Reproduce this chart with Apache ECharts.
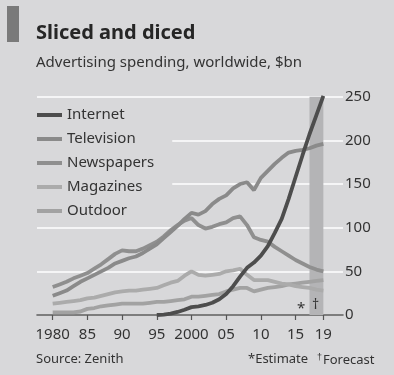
<!DOCTYPE html>
<html><head><meta charset="utf-8">
<script src="https://cdn.jsdelivr.net/npm/echarts@6/dist/echarts.min.js"></script>
<style>html,body{margin:0;padding:0;background:#d8d8da;}#c{width:394px;height:375px;}</style>
</head><body><div id="c"></div>
<script>
const years = [];
for (let y = 1980; y <= 2019; y++) years.push(y);
const internet = [null,null,null,null,null,null,null,null,null,null,null,null,null,null,null,
  0,0.5,1.5,3.5,6,9,10,11.5,14,18,24,33,44,54,60,68,79,94,110,133,158,183,207,229,251];
const television = [22,25,28,33,38,42,46,50,54,59,62,65,67,71,76,81,88,95,102,110,
  117,115,119,127,133,137,145,150,152,143,157,165,173,180,186,188,189,191,194,196];
const newspapers = [32,35,38,42,45,48,53,58,64,70,74,73,73,76,80,84,90,97,103,108,
  111,103,99,101,104,106,111,113,103,89,86,84,78,73,68,63,59,55,52,50];
const magazines = [13,14,15,16,17,19,20,22,24,26,27,28,28,29,30,31,34,37,39,45,
  50,46,45,46,47,50,51,53,46,40,40,40,38,36,35,33,32,31,29,28];
const outdoor = [3,3,3,3,4,7,8,10,11,12,13,13,13,13,14,15,15,16,17,18,
  21,21,22,23,24,27,29,31,31,27,29,31,32,33,35,36,37,38,39,40];
const tickYears = [1980,1985,1990,1995,2000,2005,2010,2015,2019];
const tickLabels = ['1980','85','90','95','2000','05','10','15','19'];
const forecastStart = 2017, forecastEnd = 2019;

const FONT = 'Noto Sans';
const pairs = arr => years.map((y,i) => [y, arr[i]]);
function line(name, data, color, z) {
  return { name, type:'line', data: pairs(data), showSymbol:false, symbol:'none',
    lineStyle:{color, width:3.8}, itemStyle:{color}, z, connectNulls:false, silent:true };
}
const series = [
  line('Outdoor', outdoor, '#a2a2a2', 2),
  line('Magazines', magazines, '#ababab', 3),
  line('Newspapers', newspapers, '#8f8f8f', 4),
  line('Television', television, '#8a8a8a', 5),
  line('Internet', internet, '#4d4d4d', 6)
];
series[0].markArea = { silent:true, itemStyle:{color:'#b4b4b6'}, data:[[{xAxis:forecastStart, yAxis:0},{xAxis:forecastEnd, yAxis:250}]] };

const chart = echarts.init(document.getElementById('c'), null, {renderer:'canvas'});
chart.setOption({
  backgroundColor:'#d8d8da',
  animation:false,
  textStyle:{fontFamily:FONT},
  grid:{left:37, right:51, top:96.7, bottom:60},
  xAxis:{type:'value', min:1977.74, max:2021.83,
    axisLine:{show:true, lineStyle:{color:'#555', width:1.5}},
    axisTick:{show:true, length:5, lineStyle:{color:'#555', width:1.2}, customValues:tickYears},
    axisLabel:{customValues:tickYears, formatter:v => tickLabels[tickYears.indexOf(v)], color:'#333', fontSize:15, margin:12, fontFamily:FONT},
    splitLine:{show:false}},
  yAxis:{type:'value', position:'right', min:0, max:250, interval:50,
    axisLine:{show:false}, axisTick:{show:false},
    axisLabel:{color:'#333', fontSize:15, margin:2, fontFamily:FONT},
    splitLine:{show:true, lineStyle:{color:'#ffffff', width:1.5}}},
  legend:{orient:'vertical', left:37, top:101, backgroundColor:'#d8d8da',
    padding:[5,18,5,0], itemGap:6, itemWidth:25, itemHeight:4, icon:'rect',
    data:['Internet','Television','Newspapers','Magazines','Outdoor'],
    textStyle:{color:'#333', fontSize:15, lineHeight:18, fontFamily:FONT}, selectedMode:false},
  graphic:[
    {type:'rect', z:100, left:7, top:6, shape:{width:12, height:36}, style:{fill:'#7a7a7a'}},
    {type:'text', z:100, left:36, top:23, style:{text:'Sliced and diced', font:'bold 20px "Noto Sans"', fill:'#262626'}},
    {type:'text', z:100, left:36, top:55, style:{text:'Advertising spending, worldwide, $bn', font:'15px "Noto Sans"', fill:'#333'}},
    {type:'text', z:100, left:36, top:353, style:{text:'Source: Zenith', font:'13px "Noto Sans"', fill:'#333'}},
    {type:'text', z:100, left:248, top:353, style:{text:'*Estimate', font:'13px "Noto Sans"', fill:'#333'}},
    {type:'text', z:100, left:317, top:353, style:{text:'{s|†}Forecast', font:'13px "Noto Sans"', fill:'#333',
      rich:{s:{fontSize:9, verticalAlign:'top', fill:'#333', padding:[0,1,6,0]}}}},
    {type:'text', z:100, left:297, top:301, style:{text:'*', font:'15px "Noto Sans"', fill:'#333'}},
    {type:'text', z:100, left:312, top:298, style:{text:'†', font:'14px "Noto Sans"', fill:'#333'}}
  ],
  series
});
</script></body></html>
